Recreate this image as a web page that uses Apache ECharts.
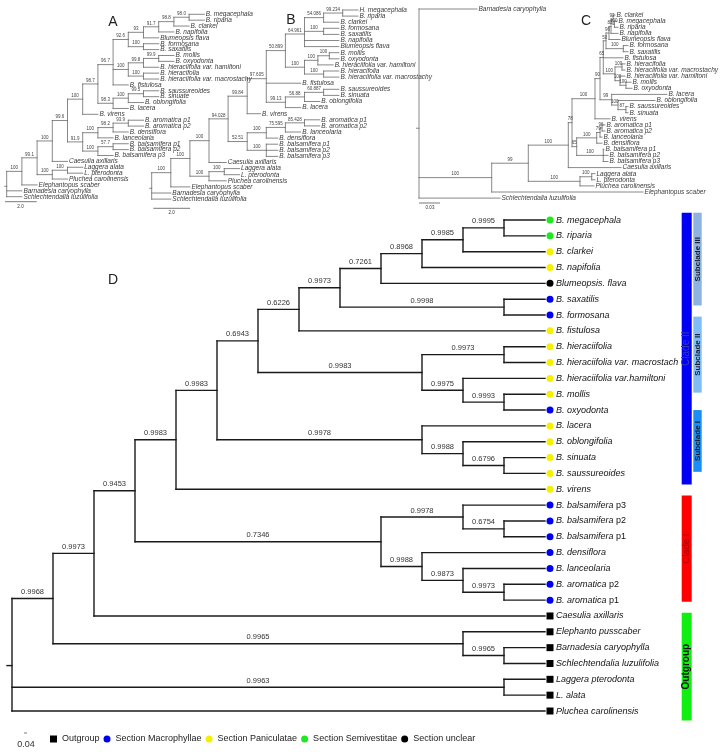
<!DOCTYPE html>
<html><head><meta charset="utf-8">
<script src="https://cdn.jsdelivr.net/npm/echarts/dist/echarts.min.js"></script>
<style>html,body{margin:0;padding:0;background:#fff}#c{width:722px;height:752px}</style>
</head><body><div id="c"></div>
<script>
// ---------------- DATA ----------------
// Panel D (Bayesian tree)
const D_leaves = ['B. megacephala','B. riparia','B. clarkei','B. napifolia','Blumeopsis. flava','B. saxatilis','B. formosana','B. fistulosa','B. hieraciifolia','B. hieraciifolia var. macrostach','B. hieraciifolia var.hamiltoni','B. mollis','B. oxyodonta','B. lacera','B. oblongifolia','B. sinuata','B. saussureoides','B. virens','B. balsamifera p3','B. balsamifera p2','B. balsamifera p1','B. densiflora','B. lanceolaria','B. aromatica p2','B. aromatica p1','Caesulia axillaris','Elephanto pusscaber','Barnadesia caryophylla','Schlechtendalia luzulifolia','Laggera pterodonta','L. alata','Pluchea carolinensis'];
const D_tipDepth = [13,13,13,13,13,13,13,13,13,13,13,13,13,13,13,13,13,13,13,13,13,13,13,13,13,13,13,13,13,13,13,13];
const sectionNames = ['Outgroup','Section Macrophyllae','Section Paniculatae','Section Semivestitae','Section unclear'];
const D_section = [3,3,2,2,4,1,1,2,2,2,2,2,1,2,2,2,2,2,1,1,1,1,1,1,1,0,0,0,0,0,0,0];
const D_nodes = [
  ['root',['N1','NLag',31],0,''],
  ['N1',['N2','NE'],1,'0.9968'],
  ['N2',['N3',25],2,'0.9973'],
  ['N3',['N4','NC1'],3,'0.9453'],
  ['N4',['N5',17],4,'0.9983'],
  ['N5',['N6','NLac'],5,'0.9983'],
  ['N6',['N7','NHier'],6,'0.6943'],
  ['N7',['N8',7],7,'0.6226'],
  ['N8',['N9','NSF'],8,'0.9973'],
  ['N9',['N10',4],9,'0.7261'],
  ['N10',['N11',3],10,'0.8968'],
  ['N11',['N12',2],11,'0.9985'],
  ['N12',[0,1],12,'0.9995'],
  ['NSF',[5,6],12,'0.9998'],
  ['NHier',['NHH','NHam'],10,'0.9983'],
  ['NHH',[8,9],12,'0.9973'],
  ['NHam',[10,'NMO'],11,'0.9975'],
  ['NMO',[11,12],12,'0.9993'],
  ['NLac',[13,'NObl'],10,'0.9978'],
  ['NObl',[14,'NSS'],11,'0.9988'],
  ['NSS',[15,16],12,'0.6796'],
  ['NC1',['NBal','NDen'],9,'0.7346'],
  ['NBal',[18,'NB12'],11,'0.9978'],
  ['NB12',[19,20],12,'0.6754'],
  ['NDen',[21,'NLan'],10,'0.9988'],
  ['NLan',[22,'NAr'],11,'0.9873'],
  ['NAr',[23,24],12,'0.9973'],
  ['NE',[26,'NBS'],11,'0.9965'],
  ['NBS',[27,28],12,'0.9965'],
  ['NLag',[29,30],12,'0.9963']
];
const cladeBars = [['Clade II',-0.45,16.7],['Clade I',17.4,24.1],['Outgroup',24.8,31.6]];
const subcladeBars = [['Subclade III',-0.45,5.4],['Subclade II',6.1,10.9],['Subclade I',12.0,15.9]];

// Panel A
const A_leaves = ['B. megacephala','B. riparia','B. clarkei','B. napifolia','Blumeopsis flava','B. formosana','B. saxatilis','B. mollis','B. oxyodonta','B. hieraciifolia var. hamiltoni','B. hieracifolia','B. hieraciifolia var. macrostachy','B. fistulosa','B. saussureoides','B. sinuate','B. oblongifolia','B. lacera','B. virens','B. aromatica p1','B. aromatica p2','B. densiflora','B. lanceolaria','B. balsamifera p1','B. balsamifera p2','B. balsamifera p3','Caesulia axillaris','Laggera alata','L. pterodonta','Pluchea carolinensis','Elephantopus scaber','Barnadesia caryophylla','Schlechtendalia luzulifolia'];
const A_tipDepth = [13,13,12,11,10,10,10,11,11,10,10,10,8,10,10,9,8,6,9,9,8,7,8,8,7,4,5,5,4,2,1,1];
const A_nodes = [
  ['root',['A1',30,31],0,''],
  ['A1',['A2',29],1,'100'],
  ['A2',['A3','Alag'],2,'99.1'],
  ['A3',['A4',25],3,'100'],
  ['Alag',['Alag2',28],3,'100'],
  ['Alag2',[26,27],4,'100'],
  ['A4',['A5','Abal'],4,'99.6'],
  ['A5',['A6',17],5,'100'],
  ['A6',['A7','Asau'],6,'98.7'],
  ['A7',['A8','Ah',12],7,'96.7'],
  ['A8',['A9','Afs'],8,'92.6'],
  ['A9',['A10',4],9,'93'],
  ['A10',['A11',3],10,'91.7'],
  ['A11',['A12',2],11,'98.8'],
  ['A12',[0,1],12,'98.0'],
  ['Afs',[5,6],9,'100'],
  ['Ah',['Amh','Ahh'],8,'100'],
  ['Amh',['Amo',9],9,'99.8'],
  ['Amo',[7,8],10,'99.9'],
  ['Ahh',[10,11],9,'100'],
  ['Asau',['Aso',16],7,'98.3'],
  ['Aso',['Ass',15],8,'100'],
  ['Ass',[13,14],9,'99.5'],
  ['Abal',['Aar','Abb'],5,'91.9'],
  ['Aar',['Aar2',21],6,'100'],
  ['Aar2',['Aar3',20],7,'98.2'],
  ['Aar3',[18,19],8,'93.9'],
  ['Abb',['Ab12',24],6,'100'],
  ['Ab12',[22,23],7,'57.7']
];

// Panel B
const B_leaves = ['H. megacephala','B. riparia','B. clarkei','B. formosana','B. saxatilis','B. napifolia','Blumeopsis flava','B. mollis','B. oxyodonta','B. hieraciifolia var. hamiltoni','B. hieracifolia','B. hieraciifolia var. macrostachy','B. fistulosa','B. saussureoides','B. sinuata','B. oblongifolia','B. lacera','B. virens','B. aromatica p1','B. aromatica p2','B. lanceolaria','B. densiflora','B. balsamifera p1','B. balsamifera p2','B. balsamifera p3','Caesulia axillaris','Laggera alata','L. pterodonta','Pluchea carolinensis','Elephantopus scaber','Barnadesia caryophylla','Schlechtendalia luzulifolia'];
const B_tipDepth = [10.8,10.8,9.8,9.8,9.8,9.8,9.8,9.8,9.8,9.5,9.8,9.8,7.8,9.8,9.8,8.8,7.8,5.7,8.8,8.8,7.8,6.6,6.6,6.6,6.6,3.9,4.6,4.6,3.9,2.0,1.0,1.0];
const B_nodes = [
  ['root',['B1',30,31],0,''],
  ['B1',['B2',29],1,'100'],
  ['B2',['B3','Blag'],2,'100'],
  ['B3',['B4',25],3,'100'],
  ['Blag',['Blag2',28],3,'100'],
  ['Blag2',[26,27],3.8,'100'],
  ['B4',['B5','Bbal'],4,'94.028'],
  ['B5',['B6',17],5,'99.84'],
  ['B6',['B7',12,'Bso'],6,'97.605'],
  ['B7',['B8','Bh'],7,'50.899'],
  ['B8',['Bmc','Bfs',5,6],8,'64.961'],
  ['Bmc',['Bmr',2],9,'54.086'],
  ['Bmr',[0,1],10,'99.234'],
  ['Bfs',[3,4],9,'100'],
  ['Bh',['Bmo2','Bhh'],8,'100'],
  ['Bmo2',['Bmo',9],8.7,'100'],
  ['Bmo',[7,8],9.3,'100'],
  ['Bhh',[10,11],9,'100'],
  ['Bso',['Bsau',16],7,'99.13'],
  ['Bsau',['Bss',15],8,'56.88'],
  ['Bss',[13,14],9,'60.887'],
  ['Bbal',['Bal','Bbb'],5,'52.51'],
  ['Bal',['Bar',21],6,'100'],
  ['Bar',['Bar2',20],7,'75.595'],
  ['Bar2',[18,19],8,'85.428'],
  ['Bbb',[22,23,24],6,'100']
];

// Panel C
const C_leaves = ['Barnadesia caryophylla','B. clarkei','B. megacephala','B. riparia','B. napifolia','Blumeopsis flava','B. formosana','B. saxatilis','B. fistulosa','B. hieracifolia','B. hieraciifolia var. macrostachy','B. hieraciifolia var. hamiltoni','B. mollis','B. oxyodonta','B. lacera','B. oblongifolia','B. saussureoides','B. sinuata','B. virens','B. aromatica p1','B. aromatica p2','B. lanceolaria','B. densiflora','B. balsamifera p1','B. balsamifera p2','B. balsamifera p3','Caesulia axillaris','Laggera alata','L. pterodonta','Pluchea carolinensis','Elephantopus scaber','Schlechtendalia luzulifolia'];
const C_tipDepth = [0.1217,0.4112,0.4154,0.4175,0.4175,0.4217,0.4384,0.4384,0.428,0.4321,0.4321,0.4321,0.4447,0.4468,0.520,0.495,0.4384,0.4384,0.4007,0.390,0.390,0.384,0.384,0.388,0.3965,0.3965,0.4237,0.3692,0.3692,0.367,0.470,0.170];
const C_nodes = [
  ['root',[0,'C1',31],0,''],
  ['C1',['C2',30],0.1525,'100'],
  ['C2',['C3','Clag'],0.2293,'99'],
  ['Clag',['Clag2',29],0.3377,'100'],
  ['Clag2',[27,28],0.3623,'100'],
  ['C3',['C4',26],0.3132,'100'],
  ['C4',['C5','Cbal'],0.321,'78'],
  ['C5',['C6',18],0.3692,'100'],
  ['C6',['C7','Clac'],0.3797,'90'],
  ['C7',['C8',8,'Ch'],0.3866,'65'],
  ['C8',['C9','Cfs'],0.3923,'50'],
  ['C9',['C10',5],0.3986,'96'],
  ['C10',['C11',4],0.4028,'82'],
  ['C11',[1,'C12'],0.407,'93'],
  ['C12',[2,3],0.410,'100'],
  ['Cfs',[6,7],0.4286,'100'],
  ['Ch',['Chh','Cmo2'],0.4112,'100'],
  ['Chh',[9,10],0.4258,'100'],
  ['Cmo2',[11,'Cmo'],0.4217,'100'],
  ['Cmo',[12,13],0.4342,'100'],
  ['Clac',[14,'Cso'],0.4042,'99'],
  ['Cso',[15,'Css'],0.4175,'100'],
  ['Css',[16,17],0.434,'87'],
  ['Cbal',['Car','Cbb'],0.3308,'65'],
  ['Car',['Car2',22],0.3728,'100'],
  ['Car2',['Car3',21],0.3797,'79'],
  ['Car3',[19,20],0.384,'96'],
  ['Cbb',[23,24,25],0.3866,'100']
];

// ---------------- STYLES ----------------
const FONT = "'Liberation Sans', Arial, Helvetica, sans-serif";
const ST = {
  A:{grid:{left:6.7,top:14.3,width:197.6,height:182.4},xMax:13,line:'#6a6a6a',lw:0.8,stub:2,tipFont:6.5,tipDx:1.5,tipColor:'#3a3a3a',supFont:4.5,supDy:1,supColor:'#444',rich:false},
  B:{grid:{left:151.7,top:10,width:229.2,height:189.1},xMax:12,line:'#6a6a6a',lw:0.8,stub:2,tipFont:6.5,tipDx:1.5,tipColor:'#3a3a3a',supFont:4.5,supDy:1,supColor:'#444',rich:false},
  C:{grid:{left:419,top:9,width:286.02,height:189.1},xMax:0.6,line:'#6a6a6a',lw:0.8,stub:2.5,tipFont:6.5,tipDx:1.5,tipColor:'#3a3a3a',supFont:4.5,supDy:1,supColor:'#444',rich:false},
  D:{grid:{left:12,top:220,width:533,height:491},xMax:13,line:'#1a1a1a',lw:1.4,stub:5,tipFont:9,tipDx:11,tipColor:'#111',supFont:7.5,supDy:2.5,supColor:'#333',rich:true}
};
const sectionColors = ['#000000','#0000f0','#f6f000','#1ee81e','#000000'];
const sectionSymbols = ['rect','circle','circle','circle','circle'];
const cladeColors = ['#0000f2','#ff0000','#11ee11'];
const cladeTextColors = ['#3a3ab8','#a00000','#111111'];
const subColors = ['#8db3e2','#80bcf5','#1a8ef5'];

// ---------------- LAYOUT ----------------
function layoutTree(leaves, tipDepth, nodes){
  const map = {}; nodes.forEach(n=>map[n[0]]=n);
  const pos = {};
  function P(c){
    if (typeof c === 'number') return {x:tipDepth[c], y:c};
    if (pos[c]) return pos[c];
    const n = map[c]; const kids = n[1].map(P);
    const y = kids.reduce((s,k)=>s+k.y,0)/kids.length;
    return pos[c] = {x:n[2], y:y, kids:kids};
  }
  const rootId = nodes[0][0];
  P(rootId);
  const segs = [], sups = [];
  nodes.forEach(n=>{
    const p = pos[n[0]];
    const ys = p.kids.map(k=>k.y);
    segs.push([p.x, Math.min.apply(null,ys), p.x, Math.max.apply(null,ys), 0]);
    p.kids.forEach((k,i)=>{
      segs.push([p.x, k.y, k.x, k.y, 0]);
      const c = n[1][i];
      if (typeof c !== 'number' && map[c][3]) sups.push([(p.x+k.x)/2, k.y, map[c][3]]);
    });
  });
  const r = pos[rootId];
  segs.push([r.x, r.y, r.x, r.y, 1]);
  return {segs, sups};
}

const trees = [
  ['A', A_leaves, A_tipDepth, A_nodes],
  ['B', B_leaves, B_tipDepth, B_nodes],
  ['C', C_leaves, C_tipDepth, C_nodes],
  ['D', D_leaves, D_tipDepth, D_nodes]
];

const grids=[], xAxes=[], yAxes=[], series=[];
trees.forEach((t,gi)=>{
  const [key, leaves, tips, nodes] = t;
  const st = ST[key];
  grids.push(Object.assign({containLabel:false}, st.grid));
  xAxes.push({type:'value', gridIndex:gi, min:0, max:st.xMax, show:false});
  yAxes.push({type:'value', gridIndex:gi, min:0, max:31, inverse:true, show:false});
  const L = layoutTree(leaves, tips, nodes);
  series.push({
    type:'custom', xAxisIndex:gi, yAxisIndex:gi, clip:false, silent:true, z:2,
    data:L.segs,
    renderItem:(params, api)=>{
      const a = api.coord([api.value(0), api.value(1)]);
      const b = api.coord([api.value(2), api.value(3)]);
      if (api.value(4)) a[0] -= st.stub;
      return {type:'line', shape:{x1:a[0],y1:a[1],x2:b[0],y2:b[1]}, style:{stroke:st.line, lineWidth:st.lw, lineCap:'square'}};
    }
  });
  series.push({
    type:'custom', xAxisIndex:gi, yAxisIndex:gi, clip:false, silent:true, z:3,
    data:L.sups.map(s=>[s[0],s[1]]),
    renderItem:(params, api)=>{
      const p = api.coord([api.value(0), api.value(1)]);
      return {type:'text', x:p[0], y:p[1]-st.supDy,
        style:{text:L.sups[params.dataIndex][2], fill:st.supColor, fontSize:st.supFont, fontFamily:FONT, align:'center', verticalAlign:'bottom'}};
    }
  });
  series.push({
    type:'custom', xAxisIndex:gi, yAxisIndex:gi, clip:false, silent:true, z:3,
    data:tips.map((x,i)=>[x,i]),
    renderItem:(params, api)=>{
      const p = api.coord([api.value(0), api.value(1)]);
      const name = leaves[params.dataIndex];
      const m = st.rich ? name.match(/^(.*?)( p\d)$/) : null;
      const style = {fill:st.tipColor, fontSize:st.tipFont, fontFamily:FONT, align:'left', verticalAlign:'middle'};
      if (m) {
        style.text = '{i|'+m[1]+'}{n|'+m[2]+'}';
        style.rich = {i:{fontStyle:'italic', fontSize:st.tipFont, fontFamily:FONT, fill:st.tipColor},
                      n:{fontStyle:'normal', fontSize:st.tipFont, fontFamily:FONT, fill:st.tipColor}};
      } else { style.text = name; style.fontStyle = 'italic'; }
      return {type:'text', x:p[0]+st.tipDx, y:p[1], style:style};
    }
  });
});

sectionNames.forEach((nm,si)=>{
  const data = [];
  D_section.forEach((s,i)=>{ if (s===si) data.push([D_tipDepth[i], i]); });
  series.push({
    name:nm, type:'scatter', xAxisIndex:3, yAxisIndex:3, z:4, silent:true,
    symbol:sectionSymbols[si], symbolSize:7, symbolOffset:[5,0],
    itemStyle:{color:sectionColors[si], opacity:1},
    data:data
  });
});

function barSeries(bars, colors, textColors, x0, w, bold, fs){
  return {
    type:'custom', xAxisIndex:3, yAxisIndex:3, clip:false, silent:true, z:6,
    data:bars.map(b=>[0,b[1],0,b[2]]),
    renderItem:(params, api)=>{
      const y0 = api.coord([0, api.value(1)])[1];
      const y1 = api.coord([0, api.value(3)])[1];
      const i = params.dataIndex;
      return {type:'group', children:[
        {type:'rect', shape:{x:x0, y:y0, width:w, height:y1-y0}, style:{fill:colors[i]}},
        {type:'text', x:x0+w/2, y:(y0+y1)/2, rotation:Math.PI/2,
          style:{text:bars[i][0], fill:textColors[i], fontSize:fs[i], fontWeight:bold[i]?'bold':'normal', fontFamily:FONT, align:'center', verticalAlign:'middle'}}
      ]};
    }
  };
}
series.push(barSeries(cladeBars, cladeColors, cladeTextColors, 681.7, 10, [false,false,true], [10,9.5,10]));
series.push(barSeries(subcladeBars, subColors, ['#1a1a2a','#1a1a2a','#1a1a2a'], 693.3, 8.4, [true,true,true], [8,8,8]));

const letter = (t,x,y)=>({type:'text', x:x, y:y, style:{text:t, fontSize:14, fontFamily:FONT, fill:'#222', align:'center', verticalAlign:'middle', textAlign:'center', textVerticalAlign:'middle'}});
const sline = (x1,x2,y)=>({type:'line', shape:{x1:x1,y1:y,x2:x2,y2:y}, style:{stroke:'#555', lineWidth:0.8}});
const stext = (t,x,y,fs)=>({type:'text', x:x, y:y, style:{text:t, fontSize:fs, fontFamily:FONT, fill:'#333', align:'center', verticalAlign:'middle', textAlign:'center', textVerticalAlign:'middle'}});

const option = {
  animation:false,
  backgroundColor:'#ffffff',
  grid:grids, xAxis:xAxes, yAxis:yAxes,
  legend:{
    left:50, top:734.5, padding:0, itemWidth:7, itemHeight:7, itemGap:4, selectedMode:false,
    textStyle:{fontSize:9, fontFamily:FONT, color:'#222'},
    data:sectionNames.map((n,i)=>({name:n, icon:sectionSymbols[i]}))
  },
  graphic:[
    letter('A',113,22), letter('B',291,20), letter('C',586,21), letter('D',113,280),
    sline(5,36.7,201.7), stext('2.0',20.5,207,4.5),
    sline(153.3,190,208.3), stext('2.0',171.7,213,4.5),
    sline(419,440,203), stext('0.03',430,208,4.5),
    sline(24,27,733), stext('0.04',26,745,9)
  ],
  series:series
};
const chart = echarts.init(document.getElementById('c'), null, {renderer:'canvas'});
chart.setOption(option);
</script></body></html>
